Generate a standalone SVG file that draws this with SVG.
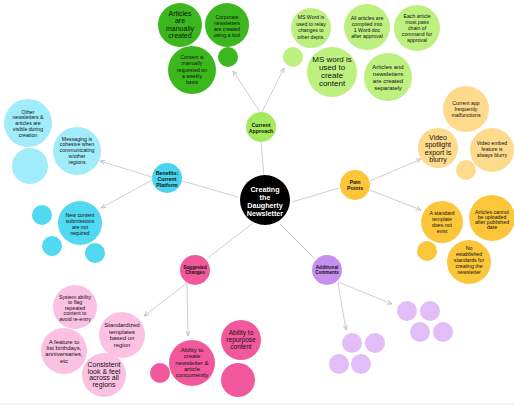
<svg xmlns="http://www.w3.org/2000/svg" width="514" height="405" viewBox="0 0 514 405">
<defs>
<marker id="ah" markerWidth="6" markerHeight="6" refX="5" refY="3" orient="auto" markerUnits="userSpaceOnUse">
<path d="M0,0.8 L5,3 L0,5.2" fill="none" stroke="#bbbbbb" stroke-width="0.8"/>
</marker>
<style>
text{font-family:"Liberation Sans","Noto Sans",Arial,sans-serif;fill:#111;text-anchor:middle}
.c line{stroke:#c8c8c8;stroke-width:0.9}
.t5{font-size:5.2px}
.t6{font-size:6px}
.t7{font-size:7px}
.t8{font-size:8px}
.cat{font-size:5.3px;font-weight:bold}
.ctr{font-size:7.2px;font-weight:bold;fill:#fff}
.g1{fill:#3cb81e}
.g2{fill:#bdf07f}
.g3{fill:#a3ea5c}
.b1{fill:#a0ecfb}
.b2{fill:#50d9f0}
.b3{fill:#4ad5ed}
.o1{fill:#fedb8c}
.o2{fill:#fcc63b}
.p1{fill:#fbc1e3}
.p2{fill:#f2599c}
.u1{fill:#e2bdf7}
.u2{fill:#c590f0}
</style>
</defs>
<rect width="514" height="405" fill="#ffffff"/>
<rect x="0" y="403" width="514" height="2" fill="#f3f3f3"/>

<g id="connectors" class="c">
<line x1="264" y1="176" x2="261" y2="142"/>
<line x1="238" y1="197" x2="182" y2="181"/>
<line x1="292" y1="202" x2="339" y2="188"/>
<line x1="253" y1="223" x2="208" y2="258"/>
<line x1="280" y1="224" x2="315" y2="259"/>
<line x1="260" y1="112" x2="233" y2="71" marker-end="url(#ah)"/>
<line x1="262" y1="112" x2="284" y2="68" marker-end="url(#ah)"/>
<line x1="152" y1="177" x2="100" y2="161" marker-end="url(#ah)"/>
<line x1="152" y1="180" x2="101" y2="208" marker-end="url(#ah)"/>
<line x1="370" y1="181" x2="421" y2="159" marker-end="url(#ah)"/>
<line x1="370" y1="190" x2="421" y2="210" marker-end="url(#ah)"/>
<line x1="187" y1="283" x2="144" y2="316" marker-end="url(#ah)"/>
<line x1="187" y1="284" x2="188" y2="336" marker-end="url(#ah)"/>
<line x1="338" y1="282" x2="392" y2="304" marker-end="url(#ah)"/>
<line x1="338" y1="283" x2="346" y2="330" marker-end="url(#ah)"/>
</g>

<g id="center">
<circle cx="265" cy="200" r="25" fill="#000"/>
<text class="ctr"><tspan x="265" y="191.5">Creating</tspan><tspan x="265" y="199.5">the</tspan><tspan x="265" y="207.5">Daugherty</tspan><tspan x="265" y="215.5">Newsletter</tspan></text>
</g>

<g id="current-approach">
<circle cx="261" cy="127" r="15" class="g3"/>
<text class="cat"><tspan x="261" y="126.5">Current</tspan><tspan x="261" y="132.5">Approach</tspan></text>
</g>
<g id="benefits">
<circle cx="167" cy="178" r="15" class="b3"/>
<text class="cat"><tspan x="167" y="174.5">Benefits:</tspan><tspan x="167" y="180.5">Current</tspan><tspan x="167" y="186.5">Platform</tspan></text>
</g>
<g id="pain-points">
<circle cx="355" cy="185" r="15" class="o2"/>
<text class="cat"><tspan x="355" y="183.5">Pain</tspan><tspan x="355" y="189.5">Points</tspan></text>
</g>
<g id="suggested-changes">
<circle cx="195" cy="270" r="15" class="p2"/>
<text class="cat" style="font-size:4.6px"><tspan x="195" y="268.5">Suggested</tspan><tspan x="195" y="274">Changes</tspan></text>
</g>
<g id="additional-comments">
<circle cx="327" cy="270" r="15" class="u2"/>
<text class="cat" style="font-size:4.6px"><tspan x="327" y="268.5">Additional</tspan><tspan x="327" y="274">Comments</tspan></text>
</g>

<!-- Current approach cluster -->
<g id="ca1"><circle cx="180" cy="25" r="22" class="g1"/>
<text class="t7"><tspan x="180" y="15.5">Articles</tspan><tspan x="180" y="23">are</tspan><tspan x="180" y="30.5">manually</tspan><tspan x="180" y="38">created</tspan></text></g>
<g id="ca2"><circle cx="227" cy="25" r="22" class="g1"/>
<text class="t5"><tspan x="227" y="18.5">Corporate</tspan><tspan x="227" y="24.5">newsletters</tspan><tspan x="227" y="30.5">are created</tspan><tspan x="227" y="36.5">using a tool</tspan></text></g>
<g id="ca3"><circle cx="192" cy="70" r="24" class="g1"/>
<text class="t5"><tspan x="192" y="59">Content is</tspan><tspan x="192" y="65.3">manually</tspan><tspan x="192" y="71.6">requested on</tspan><tspan x="192" y="77.9">a weekly</tspan><tspan x="192" y="84.2">basis</tspan></text></g>
<g id="ca4"><circle cx="228" cy="57" r="10" class="g1"/></g>
<g id="ca5"><circle cx="311" cy="28" r="20" class="g2"/>
<text class="t5"><tspan x="311" y="19">MS Word is</tspan><tspan x="311" y="25.5">used to relay</tspan><tspan x="311" y="32">changes to</tspan><tspan x="311" y="38.5">other depts.</tspan></text></g>
<g id="ca6"><circle cx="367" cy="27" r="23" class="g2"/>
<text class="t5"><tspan x="367" y="19.5">All articles are</tspan><tspan x="367" y="25.8">compiled into</tspan><tspan x="367" y="32.1">1 Word doc</tspan><tspan x="367" y="38.4">after approval</tspan></text></g>
<g id="ca7"><circle cx="417" cy="28" r="23" class="g2"/>
<text class="t5"><tspan x="417" y="17.5">Each article</tspan><tspan x="417" y="23.6">must pass</tspan><tspan x="417" y="29.7">chain of</tspan><tspan x="417" y="35.8">command for</tspan><tspan x="417" y="41.9">approval</tspan></text></g>
<g id="ca8"><circle cx="293" cy="57" r="10" class="g2"/></g>
<g id="ca9"><circle cx="332" cy="72" r="25" class="g2"/>
<text class="t8"><tspan x="332" y="61.5">MS word is</tspan><tspan x="332" y="69.7">used to</tspan><tspan x="332" y="77.9">create</tspan><tspan x="332" y="86.1">content</tspan></text></g>
<g id="ca10"><circle cx="388" cy="77" r="24" class="g2"/>
<text class="t6"><tspan x="388" y="69">Articles and</tspan><tspan x="388" y="76">newsletters</tspan><tspan x="388" y="83">are created</tspan><tspan x="388" y="90">separately</tspan></text></g>

<!-- Benefits cluster -->
<g id="b1"><circle cx="28" cy="123" r="24" class="b1"/>
<text class="t5"><tspan x="28" y="113.5">Other</tspan><tspan x="28" y="119.3">newsletters &amp;</tspan><tspan x="28" y="125.1">articles are</tspan><tspan x="28" y="130.9">visible during</tspan><tspan x="28" y="136.7">creation</tspan></text></g>
<g id="b2"><circle cx="77" cy="151" r="24" class="b1"/>
<text class="t5"><tspan x="77" y="140.5">Messaging is</tspan><tspan x="77" y="146.3">cohesive when</tspan><tspan x="77" y="152.1">communicating</tspan><tspan x="77" y="157.9">w/other</tspan><tspan x="77" y="163.7">regions</tspan></text></g>
<g id="b3"><circle cx="30" cy="166" r="18" class="b1"/></g>
<g id="b4"><circle cx="80" cy="223" r="22" class="b2"/>
<text class="t5"><tspan x="80" y="216.5">New content</tspan><tspan x="80" y="222.5">submissions</tspan><tspan x="80" y="228.5">are not</tspan><tspan x="80" y="234.5">required</tspan></text></g>
<g id="b5"><circle cx="42" cy="215" r="10" class="b2"/></g>
<g id="b6"><circle cx="52" cy="246" r="10" class="b2"/></g>
<g id="b7"><circle cx="95" cy="253" r="10" class="b2"/></g>

<!-- Pain points cluster -->
<g id="p1"><circle cx="466" cy="109" r="23" class="o1"/>
<text class="t5"><tspan x="466" y="104.5">Current app</tspan><tspan x="466" y="110.8">frequently</tspan><tspan x="466" y="117.1">malfunctions</tspan></text></g>
<g id="p2"><circle cx="438" cy="148" r="20" class="o1"/>
<text class="t7"><tspan x="438" y="139.5">Video</tspan><tspan x="438" y="147">spotlight</tspan><tspan x="438" y="154.5">export is</tspan><tspan x="438" y="162">blurry</tspan></text></g>
<g id="p3"><circle cx="492" cy="150" r="22" class="o1"/>
<text class="t5"><tspan x="492" y="144.5">Video embed</tspan><tspan x="492" y="150.8">feature is</tspan><tspan x="492" y="157.1">always blurry</tspan></text></g>
<g id="p4"><circle cx="466" cy="170" r="10" class="o1"/></g>
<g id="p5"><circle cx="442" cy="222" r="21" class="o2"/>
<text class="t5"><tspan x="442" y="214.5">A standard</tspan><tspan x="442" y="220.8">template</tspan><tspan x="442" y="227.1">does not</tspan><tspan x="442" y="233.4">exist</tspan></text></g>
<g id="p6"><circle cx="492" cy="218" r="23" class="o2"/>
<text class="t5"><tspan x="492" y="213.5">Articles cannot</tspan><tspan x="492" y="218.8">be uploaded</tspan><tspan x="492" y="224.1">after published</tspan><tspan x="492" y="229.4">date</tspan></text></g>
<g id="p7"><circle cx="427" cy="251" r="10" class="o2"/></g>
<g id="p8"><circle cx="469" cy="262" r="22" class="o2"/>
<text class="t5"><tspan x="469" y="249.5">No</tspan><tspan x="469" y="255.5">established</tspan><tspan x="469" y="261.5">standards for</tspan><tspan x="469" y="267.5">creating the</tspan><tspan x="469" y="273.5">newsletter</tspan></text></g>

<!-- Suggested changes cluster -->
<g id="s1"><circle cx="75" cy="307" r="22" class="p1"/>
<text class="t5"><tspan x="75" y="298.5">System ability</tspan><tspan x="75" y="304">to flag</tspan><tspan x="75" y="309.5">repeated</tspan><tspan x="75" y="315">content to</tspan><tspan x="75" y="320.5">avoid re-entry</tspan></text></g>
<g id="s2"><circle cx="122" cy="335" r="23" class="p1"/>
<text class="t6"><tspan x="122" y="327">Standardized</tspan><tspan x="122" y="333.5">templates</tspan><tspan x="122" y="340">based on</tspan><tspan x="122" y="346.5">region</tspan></text></g>
<g id="s3"><circle cx="64" cy="351" r="23" class="p1"/>
<text class="t6"><tspan x="64" y="344">A feature to</tspan><tspan x="64" y="350.2">list birthdays,</tspan><tspan x="64" y="356.4">anniversaries,</tspan><tspan x="64" y="362.6">etc</tspan></text></g>
<g id="s4"><circle cx="104" cy="375" r="22" class="p1"/>
<text class="t7"><tspan x="104" y="367">Consistent</tspan><tspan x="104" y="373.7">look &amp; feel</tspan><tspan x="104" y="380.4">across all</tspan><tspan x="104" y="387.1">regions</tspan></text></g>
<g id="s5"><circle cx="192" cy="363" r="23" class="p2"/>
<text class="t6"><tspan x="192" y="352">Ability to</tspan><tspan x="192" y="358.3">create</tspan><tspan x="192" y="364.6">newsletter &amp;</tspan><tspan x="192" y="370.9">article</tspan><tspan x="192" y="377.2">concurrently</tspan></text></g>
<g id="s6"><circle cx="160" cy="373" r="10" class="p2"/></g>
<g id="s7"><circle cx="241" cy="340" r="20" class="p2"/>
<text class="t6" style="font-size:6.5px"><tspan x="241" y="335">Ability to</tspan><tspan x="241" y="342">repurpose</tspan><tspan x="241" y="349">content</tspan></text></g>
<g id="s8"><circle cx="238" cy="380" r="17" class="p2"/></g>

<!-- Additional comments cluster -->
<g id="a1"><circle cx="407" cy="311" r="10" class="u1"/></g>
<g id="a2"><circle cx="430" cy="311" r="10" class="u1"/></g>
<g id="a3"><circle cx="420" cy="332" r="10" class="u1"/></g>
<g id="a4"><circle cx="443" cy="332" r="10" class="u1"/></g>
<g id="a5"><circle cx="352" cy="343" r="10" class="u1"/></g>
<g id="a6"><circle cx="375" cy="343" r="10" class="u1"/></g>
<g id="a7"><circle cx="339" cy="364" r="10" class="u1"/></g>
<g id="a8"><circle cx="361" cy="364" r="10" class="u1"/></g>
</svg>
